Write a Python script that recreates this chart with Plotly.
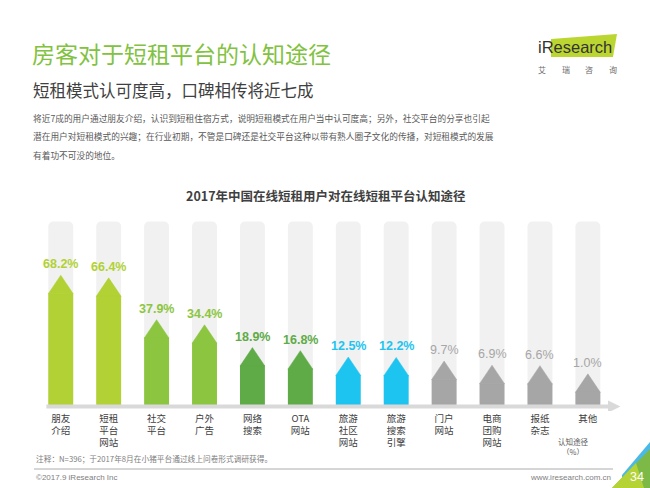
import plotly.graph_objects as go

# data
CATEGORIES = ['朋友<br>介绍', '短租<br>平台<br>网站', '社交<br>平台', '户外<br>广告', '网络<br>搜索',
              'OTA<br>网站', '旅游<br>社区<br>网站', '旅游<br>搜索<br>引擎', '门户<br>网站',
              '电商<br>团购<br>网站', '报纸<br>杂志', '其他']
VALUES = [68.2, 66.4, 37.9, 34.4, 18.9, 16.8, 12.5, 12.2, 9.7, 6.9, 6.6, 1.0]

TITLE = '房客对于短租平台的认知途径'
SUBTITLE = '短租模式认可度高，口碑相传将近七成'
PARAGRAPH = [
  '将近7成的用户通过朋友介绍，认识到短租住宿方式，说明短租模式在用户当中认可度高；另外，社交平台的分享也引起',
  '潜在用户对短租模式的兴趣；在行业初期，不管是口碑还是社交平台这种以带有熟人圈子文化的传播，对短租模式的发展',
  '有着功不可没的地位。',
]
CHART_TITLE = '2017年中国在线短租用户对在线短租平台认知途径'
NOTE = '注释：N=396；于2017年8月在小猪平台通过线上问卷形式调研获得。'

# style
BAR_COLORS = ['#b1d135', '#b1d135', '#8cc540', '#8cc540', '#5fab47', '#5fab47',
              '#1dc4f0', '#1dc4f0', '#a6a6a6', '#a6a6a6', '#a6a6a6', '#a6a6a6']
FONT = 'Noto Sans CJK SC'
W, H = 650, 488
L, R, T, B = 32, 19, 215, 77
PW, PH = W - L - R, H - T - B
BASE = -9        # where the bars start
BG_TOP = 117     # height of the grey track
TIP = 12.3       # arrow tip height
BAR_W = 0.52


def fx(x):
  return (x - L) / PW


def fy(y):
  return (H - B - y) / PH


idx = list(range(len(VALUES)))
fig = go.Figure()

# grey tracks
fig.add_trace(go.Bar(
  x=idx, y=[BG_TOP - BASE] * len(idx), base=BASE, width=BAR_W,
  marker=dict(color='#f1f1f1', cornerradius=5, line=dict(width=0)),
  hoverinfo='skip'
))
# value bars
fig.add_trace(go.Bar(
  x=idx, y=[v - BASE for v in VALUES], base=BASE, width=BAR_W,
  marker=dict(color=BAR_COLORS, line=dict(width=0)),
  hoverinfo='skip'
))
# arrow tips
for i, v in enumerate(VALUES):
  fig.add_trace(go.Scatter(
    x=[i - BAR_W / 2, i, i + BAR_W / 2, i - BAR_W / 2],
    y=[v - 0.3, v + TIP, v - 0.3, v - 0.3],
    fill='toself', mode='lines',
    fillcolor=BAR_COLORS[i],
    line=dict(color=BAR_COLORS[i], width=0.5),
    hoverinfo='skip'
  ))

annotations = []
for i, v in enumerate(VALUES):
  annotations.append(dict(
    x=i, y=v + TIP, xref='x', yref='y', yanchor='bottom', yshift=2,
    text=f'{v:.1f}%', showarrow=False,
    font=dict(family='Liberation Sans', size=12.5, color=BAR_COLORS[i],
              weight='normal' if BAR_COLORS[i] == '#a6a6a6' else 'bold')
  ))


def text(t, x, y, size, color, xanchor='left', weight='normal', family=FONT):
  annotations.append(dict(
    x=fx(x), y=fy(y), xref='paper', yref='paper', xanchor=xanchor, yanchor='middle',
    text=t, showarrow=False, align='center',
    font=dict(family=family, size=size, color=color, weight=weight)
  ))


text(TITLE, 30, 53, 23, '#82c241')
text(SUBTITLE, 31, 90, 16.5, '#404040')
for k, line in enumerate(PARAGRAPH):
  text(line, 31, 119 + k * 18, 8.7, '#595959')
text(CHART_TITLE, 326, 195, 12.5, '#404040', xanchor='center', weight='bold')
text('认知途径<br>（%）', 573, 446, 7.5, '#595959', xanchor='center')
text(NOTE, 34, 458, 7.7, '#808080')
text('©2017.9 iResearch Inc', 34, 477, 8, '#808080', family='Liberation Sans')
text('www.iresearch.com.cn', 613, 477, 8, '#808080', xanchor='right', family='Liberation Sans')
text('34', 637, 477, 12.5, '#ffffff', xanchor='center', family='Liberation Sans')
text('iResearch', 575, 47, 16.5, '#333333', xanchor='center', family='Liberation Sans')
for k, ch in enumerate('艾瑞咨询'):
  text(ch, 542 + k * 23.5, 69, 8, '#6b6b6b', xanchor='center')


def poly(points, color):
  path = 'M ' + ' L '.join(f'{fx(a):.4f},{fy(b):.4f}' for a, b in points) + ' Z'
  return dict(type='path', xref='paper', yref='paper', path=path,
              fillcolor=color, line=dict(width=0), layer='below')


px_per_unit = PH / 133.5
shapes = [
  # axis with arrow head
  dict(type='line', xref='x', yref='y', x0=-0.3, x1=11.45, y0=BASE, y1=BASE,
       line=dict(color='#d9d9d9', width=4), layer='above'),
  dict(type='path', xref='x', yref='y', layer='above', fillcolor='#d9d9d9', line=dict(width=0),
       path=f'M 11.42,{BASE - 6 / px_per_unit} L 11.68,{BASE} L 11.42,{BASE + 6 / px_per_unit} Z'),
  # footer rule
  dict(type='line', xref='paper', yref='paper', x0=fx(34), x1=fx(613), y0=fy(469), y1=fy(469),
       line=dict(color='#c8c8c8', width=1.5)),
  # logo block
  poly([(551, 39), (617, 34), (613, 57), (551, 57)], '#bcd631'),
  # page corner
  poly([(622, 475), (650, 442), (650, 488), (622, 488)], '#4bb9e8'),
  poly([(612, 488), (650, 449), (650, 488)], '#7cb947'),
  poly([(612, 488), (636, 463), (644, 488)], '#b5d334'),
]

fig.update_layout(
  width=W, height=H,
  margin=dict(l=L, r=R, t=T, b=B),
  plot_bgcolor='white', paper_bgcolor='white',
  barmode='overlay', showlegend=False,
  font=dict(family=FONT),
  xaxis=dict(
    range=[-0.6, 11.9], tickmode='array', tickvals=idx, ticktext=CATEGORIES,
    tickfont=dict(family=FONT, size=9.5, color='#404040'),
    showgrid=False, zeroline=False, showline=False, ticks=''
  ),
  yaxis=dict(range=[-12, 121.5], visible=False),
  annotations=annotations,
  shapes=shapes
)

# the page puts an 8px margin round the plot div; drop it so the figure fills the window
fig.write_html(
  'out.html',
  config=dict(displayModeBar=False),
  post_script="document.body.style.margin = '0';"
)
